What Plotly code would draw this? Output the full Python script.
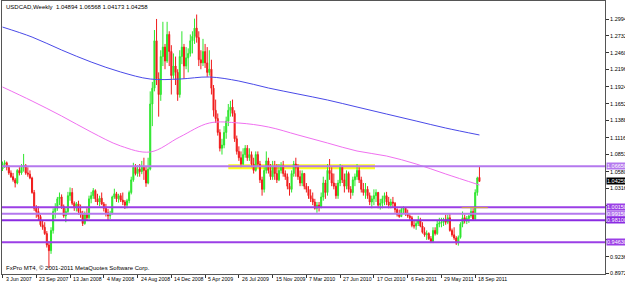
import pandas as pd
import plotly.graph_objects as go

START = "2007-06-03"
N_WEEKS = 227
dates = pd.date_range(START, periods=N_WEEKS, freq="7D")

open_ = [
    1.0620, 1.0700, 1.0720, 1.0650, 1.0560, 1.0500, 1.0450, 1.0400, 1.0600, 1.0560,
    1.0650, 1.0680, 1.0560, 1.0540, 1.0480, 1.0250, 1.0000, 0.9950, 0.9870, 0.9740,
    0.9700, 0.9600, 0.9420, 0.9330, 0.9650, 0.9950, 1.0000, 1.0150, 1.0180, 1.0030,
    0.9880, 0.9950, 1.0200, 1.0250, 1.0080, 1.0010, 1.0070, 0.9950, 0.9900, 0.9760,
    0.9900, 0.9850, 1.0150, 1.0200, 1.0280, 1.0150, 1.0100, 1.0160, 1.0070, 1.0000,
    0.9930, 0.9880, 0.9920, 1.0180, 1.0230, 1.0150, 1.0200, 1.0130, 1.0100, 1.0050,
    1.0120, 1.0250, 1.0450, 1.0650, 1.0550, 1.0620, 1.0580, 1.0650, 1.0600, 1.0400,
    1.0620, 1.1650, 1.1900, 1.2650, 1.2050, 1.1800, 1.2400, 1.2550, 1.2330, 1.2750,
    1.2480, 1.2100, 1.2250, 1.2150, 1.1800, 1.2400, 1.2550, 1.2250, 1.2380, 1.2450,
    1.2650, 1.2720, 1.2850, 1.2700, 1.2350, 1.2300, 1.2480, 1.2300, 1.2150, 1.2200,
    1.1900, 1.1550, 1.1420, 1.1200, 1.0950, 1.1000, 1.1200, 1.1380, 1.1550, 1.1600,
    1.1500, 1.1100, 1.0900, 1.0800, 1.0700, 1.0850, 1.0950, 1.0800, 1.0850, 1.0700,
    1.0600, 1.0850, 1.0700, 1.0450, 1.0300, 1.0600, 1.0750, 1.0600, 1.0500, 1.0650,
    1.0550, 1.0450, 1.0600, 1.0680, 1.0550, 1.0500, 1.0350, 1.0300, 1.0550, 1.0700,
    1.0650, 1.0500, 1.0400, 1.0550, 1.0350, 1.0300, 1.0200, 1.0150, 1.0100, 1.0000,
    1.0050, 1.0020, 1.0180, 1.0400, 1.0250, 1.0600, 1.0550, 1.0400, 1.0350, 1.0200,
    1.0400, 1.0650, 1.0450, 1.0350, 1.0550, 1.0300, 1.0250, 1.0450, 1.0500, 1.0600,
    1.0450, 1.0300, 1.0250, 1.0300, 1.0200, 1.0100, 1.0150, 1.0200, 1.0250, 1.0050,
    1.0080, 1.0150, 1.0200, 1.0100, 1.0050, 1.0100, 1.0080, 0.9980, 0.9900, 0.9870,
    0.9980, 1.0000, 0.9920, 0.9880, 0.9850, 0.9730, 0.9720, 0.9760, 0.9800, 0.9720,
    0.9620, 0.9580, 0.9600, 0.9520, 0.9470, 0.9650, 0.9600, 0.9750, 0.9770, 0.9780,
    0.9820, 0.9780, 0.9850, 0.9650, 0.9580, 0.9530, 0.9450, 0.9540, 0.9750, 0.9850,
    0.9800, 0.9840, 0.9880, 0.9950, 0.9830, 1.0250, 1.04894,
]
high = [
    1.0740, 1.0760, 1.0740, 1.0680, 1.0600, 1.0560, 1.0480, 1.0620, 1.0650, 1.0700,
    1.0860, 1.0700, 1.0650, 1.0600, 1.0500, 1.0290, 1.0050, 1.0030, 0.9900, 0.9800,
    0.9780, 0.9640, 0.9480, 0.9700, 1.0000, 1.0080, 1.0180, 1.0250, 1.0220, 1.0060,
    1.0000, 1.0260, 1.0330, 1.0320, 1.0110, 1.0100, 1.0120, 1.0060, 0.9960, 0.9950,
    1.0000, 1.0200, 1.0260, 1.0320, 1.0300, 1.0230, 1.0200, 1.0250, 1.0100, 1.0070,
    0.9990, 0.9960, 1.0200, 1.0310, 1.0260, 1.0230, 1.0240, 1.0250, 1.0130, 1.0150,
    1.0280, 1.0500, 1.0720, 1.0700, 1.0680, 1.0700, 1.0750, 1.0800, 1.0660, 1.0800,
    1.1850, 1.2000, 1.2820, 1.2995, 1.2150, 1.2500, 1.2950, 1.2600, 1.2950, 1.2800,
    1.2580, 1.2450, 1.2400, 1.2200, 1.2500, 1.2800, 1.2600, 1.2550, 1.2530, 1.2750,
    1.2800, 1.3000, 1.3065, 1.2800, 1.2500, 1.2680, 1.2600, 1.2550, 1.2500, 1.2350,
    1.1950, 1.1720, 1.1500, 1.1250, 1.1100, 1.1300, 1.1450, 1.1650, 1.1700, 1.1720,
    1.1550, 1.1150, 1.0980, 1.0900, 1.0950, 1.1000, 1.1000, 1.0950, 1.0900, 1.0800,
    1.0900, 1.0900, 1.0750, 1.0500, 1.0650, 1.0900, 1.0800, 1.0700, 1.0750, 1.0750,
    1.0700, 1.0700, 1.0730, 1.0750, 1.0600, 1.0550, 1.0400, 1.0600, 1.0750, 1.0800,
    1.0700, 1.0600, 1.0600, 1.0560, 1.0400, 1.0350, 1.0300, 1.0250, 1.0150, 1.0100,
    1.0100, 1.0250, 1.0500, 1.0450, 1.0700, 1.0780, 1.0650, 1.0550, 1.0400, 1.0450,
    1.0700, 1.0680, 1.0550, 1.0600, 1.0580, 1.0350, 1.0500, 1.0550, 1.0700, 1.0650,
    1.0500, 1.0400, 1.0400, 1.0350, 1.0250, 1.0200, 1.0300, 1.0300, 1.0260, 1.0150,
    1.0200, 1.0250, 1.0260, 1.0180, 1.0150, 1.0180, 1.0100, 1.0000, 0.9980, 1.0020,
    1.0030, 1.0020, 0.9980, 0.9920, 0.9880, 0.9800, 0.9800, 0.9880, 0.9850, 0.9780,
    0.9700, 0.9650, 0.9620, 0.9560, 0.9700, 0.9700, 0.9800, 0.9850, 0.9850, 0.9850,
    0.9900, 0.9900, 0.9920, 0.9680, 0.9700, 0.9560, 0.9570, 0.9780, 0.9950, 0.9900,
    0.9880, 0.9900, 1.0000, 1.0000, 1.0300, 1.0500, 1.06568,
]
low = [
    1.0590, 1.0640, 1.0600, 1.0530, 1.0480, 1.0420, 1.0330, 1.0380, 1.0520, 1.0530,
    1.0580, 1.0530, 1.0500, 1.0460, 1.0230, 0.9960, 0.9850, 0.9810, 0.9710, 0.9660,
    0.9580, 0.9380, 0.9056, 0.9280, 0.9600, 0.9840, 0.9960, 1.0050, 0.9990, 0.9850,
    0.9780, 0.9900, 1.0120, 1.0050, 0.9960, 0.9950, 0.9900, 0.9850, 0.9720, 0.9740,
    0.9800, 0.9830, 1.0080, 1.0150, 1.0100, 1.0050, 1.0030, 1.0050, 0.9950, 0.9870,
    0.9800, 0.9830, 0.9900, 1.0150, 1.0100, 1.0090, 1.0100, 1.0050, 0.9990, 1.0000,
    1.0080, 1.0220, 1.0420, 1.0520, 1.0500, 1.0500, 1.0540, 1.0450, 1.0340, 1.0380,
    1.0600, 1.1300, 1.1850, 1.1950, 1.1450, 1.1700, 1.2250, 1.2200, 1.2300, 1.2250,
    1.1800, 1.2050, 1.1950, 1.1700, 1.1750, 1.2280, 1.2050, 1.2200, 1.2150, 1.2400,
    1.2450, 1.2600, 1.2620, 1.2250, 1.2200, 1.2250, 1.2220, 1.2080, 1.2100, 1.1800,
    1.1450, 1.1350, 1.1150, 1.0900, 1.0850, 1.0950, 1.1100, 1.1300, 1.1450, 1.1450,
    1.1050, 1.0850, 1.0750, 1.0650, 1.0680, 1.0800, 1.0750, 1.0750, 1.0650, 1.0550,
    1.0580, 1.0650, 1.0400, 1.0200, 1.0250, 1.0550, 1.0550, 1.0450, 1.0450, 1.0450,
    1.0400, 1.0430, 1.0550, 1.0500, 1.0450, 1.0300, 1.0200, 1.0250, 1.0500, 1.0500,
    1.0450, 1.0350, 1.0350, 1.0300, 1.0250, 1.0150, 1.0100, 1.0050, 0.9980, 0.9930,
    0.9950, 1.0000, 1.0120, 1.0150, 1.0200, 1.0450, 1.0350, 1.0300, 1.0150, 1.0150,
    1.0350, 1.0400, 1.0250, 1.0300, 1.0250, 1.0150, 1.0200, 1.0350, 1.0450, 1.0400,
    1.0250, 1.0200, 1.0150, 1.0150, 1.0050, 1.0000, 1.0050, 1.0100, 1.0000, 0.9980,
    1.0000, 1.0050, 1.0050, 1.0000, 1.0000, 1.0020, 0.9930, 0.9870, 0.9850, 0.9860,
    0.9920, 0.9880, 0.9850, 0.9800, 0.9700, 0.9680, 0.9660, 0.9720, 0.9700, 0.9600,
    0.9550, 0.9500, 0.9500, 0.9450, 0.9450, 0.9570, 0.9580, 0.9700, 0.9700, 0.9720,
    0.9740, 0.9750, 0.9630, 0.9550, 0.9500, 0.9420, 0.9410, 0.9520, 0.9700, 0.9760,
    0.9750, 0.9770, 0.9850, 0.9800, 0.9800, 1.0200, 1.04173,
]
close = [
    1.0700, 1.0720, 1.0650, 1.0560, 1.0500, 1.0450, 1.0400, 1.0600, 1.0560, 1.0650,
    1.0680, 1.0560, 1.0540, 1.0480, 1.0250, 1.0000, 0.9950, 0.9870, 0.9740, 0.9700,
    0.9600, 0.9420, 0.9330, 0.9650, 0.9950, 1.0000, 1.0150, 1.0180, 1.0030, 0.9880,
    0.9950, 1.0200, 1.0250, 1.0080, 1.0010, 1.0070, 0.9950, 0.9900, 0.9760, 0.9900,
    0.9850, 1.0150, 1.0200, 1.0280, 1.0150, 1.0100, 1.0160, 1.0070, 1.0000, 0.9930,
    0.9880, 0.9920, 1.0180, 1.0230, 1.0150, 1.0200, 1.0130, 1.0100, 1.0050, 1.0120,
    1.0250, 1.0450, 1.0650, 1.0550, 1.0620, 1.0580, 1.0650, 1.0600, 1.0400, 1.0620,
    1.1650, 1.1900, 1.2650, 1.2050, 1.1800, 1.2400, 1.2550, 1.2330, 1.2750, 1.2480,
    1.2100, 1.2250, 1.2150, 1.1800, 1.2400, 1.2550, 1.2250, 1.2380, 1.2450, 1.2650,
    1.2720, 1.2850, 1.2700, 1.2350, 1.2300, 1.2480, 1.2300, 1.2150, 1.2200, 1.1900,
    1.1550, 1.1420, 1.1200, 1.0950, 1.1000, 1.1200, 1.1380, 1.1550, 1.1600, 1.1500,
    1.1100, 1.0900, 1.0800, 1.0700, 1.0850, 1.0950, 1.0800, 1.0850, 1.0700, 1.0600,
    1.0850, 1.0700, 1.0450, 1.0300, 1.0600, 1.0750, 1.0600, 1.0500, 1.0650, 1.0550,
    1.0450, 1.0600, 1.0680, 1.0550, 1.0500, 1.0350, 1.0300, 1.0550, 1.0700, 1.0650,
    1.0500, 1.0400, 1.0550, 1.0350, 1.0300, 1.0200, 1.0150, 1.0100, 1.0000, 1.0050,
    1.0020, 1.0180, 1.0400, 1.0250, 1.0600, 1.0550, 1.0400, 1.0350, 1.0200, 1.0400,
    1.0650, 1.0450, 1.0350, 1.0550, 1.0300, 1.0250, 1.0450, 1.0500, 1.0600, 1.0450,
    1.0300, 1.0250, 1.0300, 1.0200, 1.0100, 1.0150, 1.0200, 1.0250, 1.0050, 1.0080,
    1.0150, 1.0200, 1.0100, 1.0050, 1.0100, 1.0080, 0.9980, 0.9900, 0.9870, 0.9980,
    1.0000, 0.9920, 0.9880, 0.9850, 0.9730, 0.9720, 0.9760, 0.9800, 0.9720, 0.9620,
    0.9580, 0.9600, 0.9520, 0.9470, 0.9650, 0.9600, 0.9750, 0.9770, 0.9780, 0.9820,
    0.9780, 0.9850, 0.9650, 0.9580, 0.9530, 0.9450, 0.9540, 0.9750, 0.9850, 0.9800,
    0.9840, 0.9880, 0.9950, 0.9830, 1.0250, 1.0480, 1.04258,
]

# moving averages at sample weeks
ma_weeks = [0, 14, 28, 42, 56, 70, 84, 98, 112, 126, 140, 154, 168, 182, 196, 210, 226]
ma_slow = [1.2867, 1.2709, 1.2504, 1.2314, 1.2156, 1.2045, 1.2045, 1.2077, 1.2013,
           1.1903, 1.1808, 1.1713, 1.1602, 1.1491, 1.1381, 1.1270, 1.1160]
ma_fast = [1.1919, 1.1697, 1.1460, 1.1207, 1.0986, 1.0891, 1.1128, 1.1349, 1.1349,
           1.1286, 1.1160, 1.1033, 1.0906, 1.0827, 1.0701, 1.0543, 1.0369]

# horizontal levels
levels = [1.0665, 1.0015, 0.9915, 0.9810, 0.9463]
level_colors = ["#b478ee", "#9b3fe6", "#b478ee", "#8a2be2", "#9b3fe6"]
zone_weeks = (107, 176.5)
zone_prices = (1.0617, 1.0697)
short_line_weeks = (217.6, 230)
short_line_price = 1.0010

y_tickvals = [1.29940, 1.27320, 1.24600, 1.21960, 1.19240, 1.16520, 1.13880, 1.11160,
              1.08530, 1.05800, 1.03160, 1.00440, 0.97800, 0.95080, 0.92360, 0.89720]
y_hidden = [1.00440, 0.97800, 0.95080]  # covered by the level boxes
x_tickdates = ["2007-06-03", "2007-09-23", "2008-01-13", "2008-05-04", "2008-08-24",
               "2008-12-14", "2009-04-05", "2009-07-26", "2009-11-15", "2010-03-07",
               "2010-06-27", "2010-10-17", "2011-02-06", "2011-05-29", "2011-09-18"]
x_ticktext = ["3 Jun 2007", "23 Sep 2007", "13 Jan 2008", "4 May 2008", "24 Aug 2008",
              "14 Dec 2008", "5 Apr 2009", "26 Jul 2009", "15 Nov 2009", "7 Mar 2010",
              "27 Jun 2010", "17 Oct 2010", "6 Feb 2011", "29 May 2011", "18 Sep 2011"]

title_text = "USDCAD,Weekly  1.04894 1.06568 1.04173 1.04258"
footer_text = "FxPro MT4, © 2001-2011 MetaQuotes Software Corp."


def wk(w):
    return pd.Timestamp(START) + pd.Timedelta(days=7 * w)


FONT = "Liberation Sans"
GREEN = "#2ee62e"
RED = "#f01c1c"

fig = go.Figure()
fig.add_trace(go.Candlestick(
    x=dates, open=open_, high=high, low=low, close=close,
    increasing=dict(line=dict(color=GREEN, width=1), fillcolor=GREEN),
    decreasing=dict(line=dict(color=RED, width=1), fillcolor=RED),
    whiskerwidth=0, showlegend=False, hoverinfo="skip",
))
ma_dates = [wk(w) for w in ma_weeks]
fig.add_trace(go.Scatter(x=ma_dates, y=ma_slow, mode="lines",
                         line=dict(color="#4a4ae8", width=1, shape="spline"),
                         showlegend=False, hoverinfo="skip"))
fig.add_trace(go.Scatter(x=ma_dates, y=ma_fast, mode="lines",
                         line=dict(color="#f070f0", width=1, shape="spline"),
                         showlegend=False, hoverinfo="skip"))

shapes = [dict(type="rect", xref="x", yref="y", x0=wk(zone_weeks[0]), x1=wk(zone_weeks[1]),
               y0=zone_prices[0], y1=zone_prices[1], fillcolor="#ffff1a",
               line=dict(width=0), layer="below")]
for lv, col in zip(levels, level_colors):
    shapes.append(dict(type="line", xref="paper", x0=0, x1=1, yref="y", y0=lv, y1=lv,
                       line=dict(color=col, width=2)))
shapes.append(dict(type="line", xref="x", yref="y", x0=wk(short_line_weeks[0]),
                   x1=wk(short_line_weeks[1]), y0=short_line_price, y1=short_line_price,
                   line=dict(color="#d8a830", width=1)))

annotations = [
    dict(xref="paper", yref="paper", x=0, y=1, xanchor="left", yanchor="top",
         xshift=2, yshift=-1, text=title_text, showarrow=False,
         font=dict(family=FONT, size=6, color="black")),
    dict(xref="paper", yref="paper", x=0, y=0, xanchor="left", yanchor="bottom",
         xshift=2, yshift=1, text=footer_text, showarrow=False,
         font=dict(family=FONT, size=6, color="black")),
]
for d, t in zip(x_tickdates, x_ticktext):
    annotations.append(dict(xref="x", yref="paper", x=pd.Timestamp(d), y=0,
                            xanchor="left", yanchor="middle", xshift=1, yshift=-5,
                            text=t, showarrow=False,
                            font=dict(family=FONT, size=5.2, color="black")))
for lv, col in zip(levels, level_colors):
    annotations.append(dict(xref="paper", yref="y", x=1, y=lv, xanchor="left",
                            xshift=1, text=f"{lv:.5f}", showarrow=False, bgcolor=col,
                            borderpad=0, font=dict(family=FONT, size=5.5, color="white")))
annotations.append(dict(xref="paper", yref="y", x=1, y=close[-1], xanchor="left",
                        xshift=1, text=f"{close[-1]:.5f}", showarrow=False,
                        bgcolor="black", borderpad=0,
                        font=dict(family=FONT, size=5.5, color="white")))

x_range = [wk(-0.24), wk(285.5)]

fig.update_layout(
    width=625, height=283,
    margin=dict(l=2, r=20, t=1, b=9),
    paper_bgcolor="white", plot_bgcolor="white",
    shapes=shapes, annotations=annotations,
    xaxis=dict(type="date", range=x_range, showgrid=False, zeroline=False,
               showline=True, linecolor="#555555", linewidth=1, mirror=True,
               ticks="outside", ticklen=3, tickcolor="#333333",
               tickvals=pd.to_datetime(x_tickdates), showticklabels=False,
               rangeslider=dict(visible=False), automargin=False, fixedrange=True),
    yaxis=dict(range=[0.8961, 1.3279], side="right", showgrid=False, zeroline=False,
               showline=True, linecolor="#555555", linewidth=1, mirror=True,
               ticks="outside", ticklen=3, tickcolor="#333333",
               tickvals=y_tickvals,
               ticktext=["" if v in y_hidden else f"{v:.5f}" for v in y_tickvals],
               tickfont=dict(family=FONT, size=5.5, color="black"),
               automargin=False, fixedrange=True),
)

fig.write_html("out.html")
